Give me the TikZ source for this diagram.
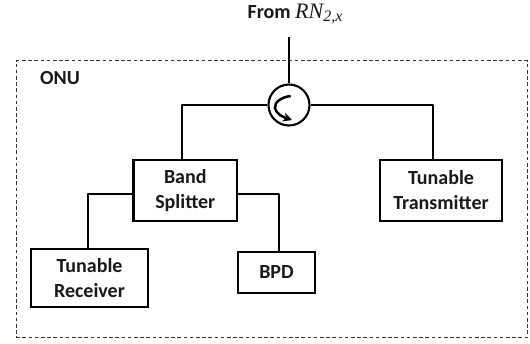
\documentclass[tikz,border=0pt]{standalone}
\usepackage{fontspec}
\setmainfont{Carlito}
\newfontfamily\rnfont{Liberation Serif}
\usetikzlibrary{arrows.meta}
\tikzset{
  blockbox/.style={draw=black,line width=2.6pt,fill=white,align=center,inner sep=0pt,font=\fontsize{20}{25}\selectfont\bfseries,text=black!90},
  link/.style={draw=black,line width=2.6pt,line join=round},
  frame/.style={draw=black!80,line width=0.9pt,dash pattern=on 3.6pt off 2.6pt},
  lbl/.style={inner sep=0pt,font=\fontsize{20}{22}\selectfont\bfseries,text=black!90}
}
\begin{document}
\begin{tikzpicture}[x=1pt,y=-1pt]
\useasboundingbox (0,0) rectangle (530,343);
\node[minimum width=511pt,minimum height=277pt,inner sep=0pt,frame] (onu) at (271.7,199) {};
\node[lbl,anchor=west] (onulbl) at (40,78) {ONU};
\node[lbl,anchor=center] (from) at (295,14) {From {\rnfont\itshape\mdseries\fontsize{22}{22}\selectfont RN\raisebox{-3.5pt}{\fontsize{16}{16}\selectfont 2,x}}};
\coordinate (in) at (289,37);
\node[circle,draw=black,line width=2.1pt,minimum size=41pt,inner sep=0pt] (circ) at (289,105) {};
\node[blockbox,minimum width=103.5pt,minimum height=61pt] (split) at (185.3,190.5) {\raisebox{2pt}{Band}\\\raisebox{2pt}{Splitter}};
\node[blockbox,minimum width=122pt,minimum height=61pt] (tx) at (441,190.5) {Tunable\\Transmitter};
\node[blockbox,minimum width=117pt,minimum height=58pt] (rx) at (89.5,278) {Tunable\\Receiver};
\node[blockbox,minimum width=77pt,minimum height=41pt] (bpd) at (276.5,272.5) {BPD};
\draw[link] (in) -- (circ.north);
\draw[link] (circ.west) -| (182,160);
\draw[link] (circ.east) -| (433,160);
\draw[link] (split.west |- 0,194) -| (88,249);
\draw[link] (split.east |- 0,194) -| (279,252);
\draw[line width=2.5pt,-{Stealth[length=9pt,width=9pt]}] (290.7,96) .. controls (282,97) and (274,102) .. (275,108) .. controls (276,114) and (283,117) .. (292,120);
\end{tikzpicture}
\end{document}
